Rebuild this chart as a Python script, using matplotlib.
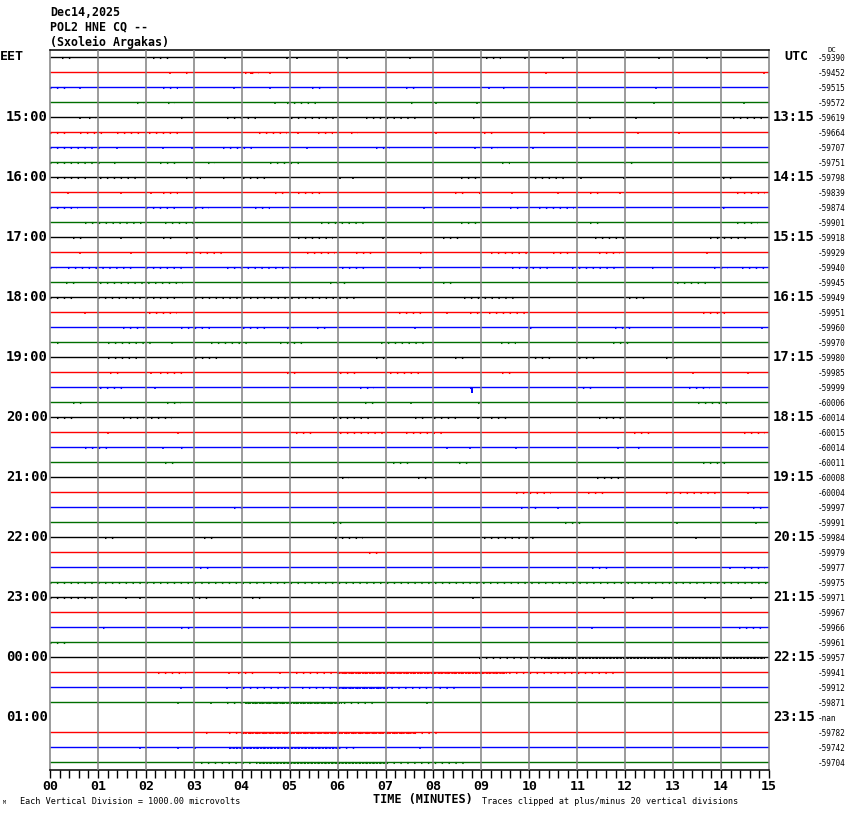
"""Helicorder-style plot of one day segment of POL2 HNE traces."""

import matplotlib

matplotlib.use("Agg")
import matplotlib.pyplot as plt  # noqa: E402
import matplotlib.ticker as ticker  # noqa: E402

TRACE_COLORS = ["#000000", "#ff0000", "#0000ff", "#006e00"]
MONO = "DejaVu Sans Mono"

HEADER = ["Dec14,2025", "POL2 HNE CQ --", "(Sxoleio Argakas)"]
LEFT_TIMES = ["15:00", "16:00", "17:00", "18:00", "19:00", "20:00",
              "21:00", "22:00", "23:00", "00:00", "01:00"]
RIGHT_TIMES = ["13:15", "14:15", "15:15", "16:15", "17:15", "18:15",
               "19:15", "20:15", "21:15", "22:15", "23:15"]
X_TICK_LABELS = [f"{m:02d}" for m in range(16)]

DC_VALUES = [
    "-59390", "-59452", "-59515", "-59572", "-59619", "-59664", "-59707", "-59751",
    "-59798", "-59839", "-59874", "-59901", "-59918", "-59929", "-59940", "-59945",
    "-59949", "-59951", "-59960", "-59970", "-59980", "-59985", "-59999", "-60006",
    "-60014", "-60015", "-60014", "-60011", "-60008", "-60004", "-59997", "-59991",
    "-59984", "-59979", "-59977", "-59975", "-59971", "-59967", "-59966", "-59961",
    "-59957", "-59941", "-59912", "-59871", "-nan", "-59782", "-59742", "-59704",
]
MISSING_ROWS = [44]

# activity windows (minutes) read per trace; a == b means a single spike
BURSTS = [
    [(0.25, 0.5), (2.15, 2.55), (3.65, 3.65), (4.95, 4.95), (5.15, 5.15), (6.2, 6.2),
     (7.5, 7.5), (9.1, 9.4), (9.9, 9.9), (10.7, 10.7), (12.7, 12.7), (13.7, 13.7)],
    [(2.5, 2.5), (2.83, 2.97), (4.07, 4.36), (4.6, 4.6), (10.35, 10.35), (14.9, 14.9)],
    [(0, 0.33), (0.62, 0.62), (2.35, 2.68), (3.83, 3.83), (4.6, 4.6), (5.46, 5.7),
     (7.43, 7.62), (9.15, 9.15), (9.45, 9.55), (12.65, 12.65)],
    [(1.82, 1.97), (2.46, 2.6), (4.7, 4.7), (4.94, 5.56), (7.53, 7.6), (8.05, 8.05),
     (8.9, 8.9), (12.6, 12.6), (14.48, 14.5)],
    [(0.62, 0.62), (0.82, 0.96), (2.73, 2.83), (3.7, 4.36), (5.03, 5.95), (6.6, 7.67),
     (8.82, 8.9), (10.0, 10.1), (11.27, 11.27), (12.22, 12.22), (14.24, 14.86)],
    [(0, 0.33), (0.62, 1.1), (1.39, 1.87), (2.06, 2.73), (4.36, 4.94), (5.18, 5.18),
     (5.6, 5.9), (6.28, 6.42), (8.05, 8.05), (9.06, 9.3), (10.3, 10.3), (12.27, 12.27),
     (13.13, 13.13)],
    [(0, 1.05), (1.39, 1.39), (2.35, 2.35), (2.97, 2.97), (3.6, 4.22), (5.37, 5.37),
     (6.8, 7.1), (8.87, 8.87), (9.2, 9.35), (10.07, 10.07)],
    [(0, 1.1), (1.34, 1.44), (2.3, 2.68), (3.3, 3.45), (4.6, 5.22), (9.44, 9.6),
     (11.98, 12.18)],
    [(0.14, 0.86), (1.05, 1.82), (2.83, 3.16), (3.6, 3.74), (4.03, 4.5), (6.04, 6.04),
     (6.33, 6.33), (8.58, 8.92), (9.97, 10.74), (11.07, 11.07), (11.98, 11.98),
     (14.05, 14.24)],
    [(0.38, 0.38), (1.49, 1.49), (2.11, 2.11), (2.35, 2.68), (4.7, 4.94), (5.18, 5.7),
     (8.44, 8.63), (8.96, 9.06), (9.64, 9.64), (10.6, 10.6), (11.27, 11.46),
     (11.89, 11.89), (12.99, 12.99), (14.33, 14.91)],
    [(0, 0.58), (2.01, 2.64), (3.02, 3.31), (4.27, 4.6), (7.0, 7.0), (7.81, 7.81),
     (9.59, 9.78), (10.2, 10.93), (14.05, 14.15)],
    [(0.72, 1.97), (2.4, 3.02), (5.66, 6.66), (8.58, 8.92), (11.27, 11.46), (14.33, 14.77)],
    [(0.48, 0.72), (1.49, 1.49), (2.35, 2.59), (3.07, 3.07), (5.18, 5.9), (6.95, 6.95),
     (8.2, 8.53), (11.36, 11.98), (13.76, 14.58)],
    [(0.62, 0.62), (1.68, 1.68), (2.83, 3.69), (5.37, 5.94), (6.38, 6.71), (7.72, 7.86),
     (9.2, 9.97), (10.5, 10.88), (11.46, 11.89), (13.71, 13.71)],
    [(0, 0.14), (0.38, 1.73), (2.01, 2.83), (3.69, 5.13), (6.09, 6.57), (7.72, 7.72),
     (9.64, 10.45), (10.88, 11.89), (12.56, 12.65), (13.85, 14.15), (14.43, 14.91)],
    [(0.34, 0.58), (1.05, 2.78), (5.85, 6.18), (8.2, 8.39), (13.09, 13.71)],
    [(0, 0.53), (1.0, 2.68), (3.02, 6.47), (8.63, 9.68), (12.08, 12.42)],
    [(0.72, 0.72), (2.06, 2.64), (7.29, 7.81), (8.29, 8.29), (8.77, 8.96), (9.16, 9.97),
     (13.62, 14.15)],
    [(1.53, 1.97), (2.73, 3.36), (4.03, 4.6), (4.94, 5.08), (5.56, 5.8), (7.62, 7.62),
     (10.02, 10.11), (11.79, 12.13), (14.86, 14.86)],
    [(0.14, 0.24), (1.2, 2.16), (2.54, 2.54), (3.36, 4.12), (4.8, 5.27), (6.9, 7.91),
     (9.4, 9.73), (11.74, 12.08)],
    [(1.2, 1.92), (3.02, 3.5), (6.8, 7.0), (8.44, 8.73), (9.97, 10.45), (11.03, 11.36),
     (12.85, 13.04)],
    [(1.25, 1.53), (2.11, 2.11), (2.3, 2.83), (4.94, 5.22), (6.04, 6.47), (7.1, 7.81),
     (9.44, 9.64), (13.42, 13.42), (14.57, 14.57)],
    [(1.05, 1.53), (2.2, 2.2), (6.47, 6.76), (8.77, 8.82), (10.98, 11.31), (13.33, 13.76)],
    [(0.48, 0.67), (2.45, 2.73), (6.57, 6.81), (7.53, 7.53), (8.92, 9.06), (13.52, 14.15)],
    [(0.14, 0.48), (1.53, 1.97), (2.11, 2.54), (5.9, 6.71), (7.62, 7.86), (8.01, 8.58),
     (8.92, 8.92), (9.2, 9.59), (11.46, 11.94)],
    [(1.2, 1.2), (2.68, 2.68), (5.13, 5.51), (6.04, 7.05), (7.43, 8.2), (12.18, 12.61),
     (14.48, 14.91)],
    [(0.72, 1.3), (2.35, 2.35), (2.73, 2.83), (8.29, 8.29), (8.77, 8.77), (9.73, 9.73),
     (11.84, 11.84), (12.27, 12.37)],
    [(2.4, 2.68), (7.15, 7.53), (8.53, 8.72), (13.62, 14.1)],
    [(6.09, 6.23), (7.67, 8.1), (11.41, 12.03)],
    [(9.73, 10.45), (11.22, 11.55), (12.85, 14.0), (14.57, 14.57)],
    [(3.83, 4.12), (9.83, 10.21), (10.6, 10.6), (14.67, 14.91)],
    [(5.9, 6.09), (10.74, 11.12), (13.09, 13.09), (14.72, 14.72)],
    [(1.15, 1.39), (3.21, 3.45), (5.94, 6.52), (9.06, 10.11), (13.47, 13.47)],
    [(6.66, 6.9)],
    [(3.12, 3.4), (11.31, 11.65), (14.19, 14.19), (14.48, 14.91)],
    [(0, 15.0)],
    [(0, 0.91), (1.58, 1.58), (1.87, 1.87), (2.97, 3.31), (4.22, 4.46), (8.82, 8.82),
     (11.55, 11.55), (12.17, 12.17), (12.56, 12.56), (13.66, 13.66), (13.99, 13.99),
     (14.62, 14.62)],
    [],
    [(1.1, 1.2), (2.73, 2.97), (11.31, 11.31), (14.38, 14.91)],
    [(0, 0.34)],
    [(8.96, 14.91)],
    [(2.25, 2.83), (3.74, 3.74), (3.93, 4.31), (4.8, 4.8), (5.13, 11.84)],
    [(2.73, 2.73), (3.69, 3.69), (4.03, 4.94), (5.25, 8.53)],
    [(2.68, 2.68), (3.36, 3.36), (3.69, 6.81), (7.86, 7.86)],
    [],
    [(3.26, 3.36), (3.74, 8.15)],
    [(1.87, 1.87), (2.68, 2.68), (3.02, 3.02), (3.74, 6.42), (7.72, 7.72)],
    [(3.16, 8.63)],
]

# stretches where the noise is nearly continuous
DENSE_ROWS = [40, 41, 42, 43, 45, 46, 47]
DENSE_SPANS = [(10.3, 14.91), (6.0, 9.54), (6.0, 7.05), (4.07, 6.09),
               (3.98, 7.62), (3.74, 6.0), (4.36, 7.0)]

# the few deflections that stand out (row, minute, size in trace spacings)
BIG_ROWS = [1, 22]
BIG_TIMES = [4.2, 8.8]
BIG_SIZES = [0.15, 0.42]


def make_chart(out_path: str) -> None:
    W, H = 850, 814
    fig = plt.figure(figsize=(W / 100, H / 100), dpi=100)
    left, right, top, bottom = 50, 769, 50, 770
    ax = fig.add_axes([left / W, 1 - bottom / H, (right - left) / W, (bottom - top) / H])

    n = len(DC_VALUES)
    first_y, step = 57, 15
    ax.set_xlim(0, 15)
    ax.set_ylim((bottom - first_y) / step, (top - first_y) / step)

    for row in range(n):
        if row in MISSING_ROWS:
            continue
        c = TRACE_COLORS[row % 4]
        ax.hlines(row, 0, 15, color=c, lw=1.0, zorder=2)
        for a, b in BURSTS[row]:
            if b - a < 0.03:
                ax.vlines(a, row, row + 0.13, color=c, lw=1.2, zorder=2)
            else:
                ax.hlines(row + 0.09, a, b, color=c, lw=1.5,
                          linestyles=(0, (0.7, 2.6)), zorder=2)

    for row, (a, b) in zip(DENSE_ROWS, DENSE_SPANS):
        ax.hlines(row + 0.08, a, b, color=TRACE_COLORS[row % 4], lw=1.3,
                  linestyles=(0, (1.4, 0.5)), zorder=2)

    for row, t, s in zip(BIG_ROWS, BIG_TIMES, BIG_SIZES):
        ax.vlines(t, row, row + s, color=TRACE_COLORS[row % 4], lw=1.4, zorder=2)

    for m in range(1, 15):
        ax.axvline(m, color="#808080", lw=1.1, zorder=3)

    ax.spines["left"].set_color("#808080")
    ax.spines["right"].set_color("#808080")
    ax.spines["top"].set_color("black")
    ax.spines["bottom"].set_color("black")
    for s in ax.spines.values():
        s.set_linewidth(1.1)

    ax.set_yticks([])
    ax.set_xticks(range(16))
    ax.set_xticklabels(X_TICK_LABELS, family=MONO, fontweight="bold", fontsize=9.5)
    ax.xaxis.set_minor_locator(ticker.MultipleLocator(0.2))
    ax.tick_params(axis="x", which="both", direction="out", length=5.8, width=1.0,
                   color="black", pad=1.5)

    # side labels
    ytr = ax.get_yaxis_transform()

    def ax_x(px):
        return (px - left) / (right - left)

    ax.text(ax_x(0), 0, "EET", transform=ytr, ha="left", va="center",
            family=MONO, fontweight="bold", fontsize=9.5)
    ax.text(ax_x(784), 0, "UTC", transform=ytr, ha="left", va="center",
            family=MONO, fontweight="bold", fontsize=9.5)
    for i, (lt, rt) in enumerate(zip(LEFT_TIMES, RIGHT_TIMES)):
        row = 4 * (i + 1)
        ax.text(ax_x(48), row, lt, transform=ytr, ha="right", va="center",
                family=MONO, fontweight="bold", fontsize=10)
        ax.text(ax_x(773), row, rt, transform=ytr, ha="left", va="center",
                family=MONO, fontweight="bold", fontsize=10)
    for row, v in enumerate(DC_VALUES):
        ax.text(ax_x(818), row + 0.1, v, transform=ytr, ha="left", va="center",
                family=MONO, fontsize=5.6)
    ax.text(ax_x(827), -0.45, "DC", transform=ytr, ha="left", va="center",
            family=MONO, fontsize=5.2)

    for i, line in enumerate(HEADER):
        fig.text(50 / W, 1 - (12 + 15 * i) / H, line, ha="left", va="center",
                 family=MONO, fontweight="bold", fontsize=8.4)

    fig.text(423 / W, 1 - 799 / H, "TIME (MINUTES)", ha="center", va="center",
             family=MONO, fontweight="bold", fontsize=8.6)
    fig.text(20 / W, 1 - 801 / H, "Each Vertical Division = 1000.00 microvolts",
             ha="left", va="center", family=MONO, fontsize=6.1)
    fig.text(482 / W, 1 - 801 / H, "Traces clipped at plus/minus 20 vertical divisions",
             ha="left", va="center", family=MONO, fontsize=6.1)
    fig.text(3 / W, 1 - 802 / H, "M", ha="left", va="center", family=MONO, fontsize=3.5)

    fig.savefig(out_path, dpi=100, facecolor="white")
    plt.close(fig)


make_chart("out.png")
